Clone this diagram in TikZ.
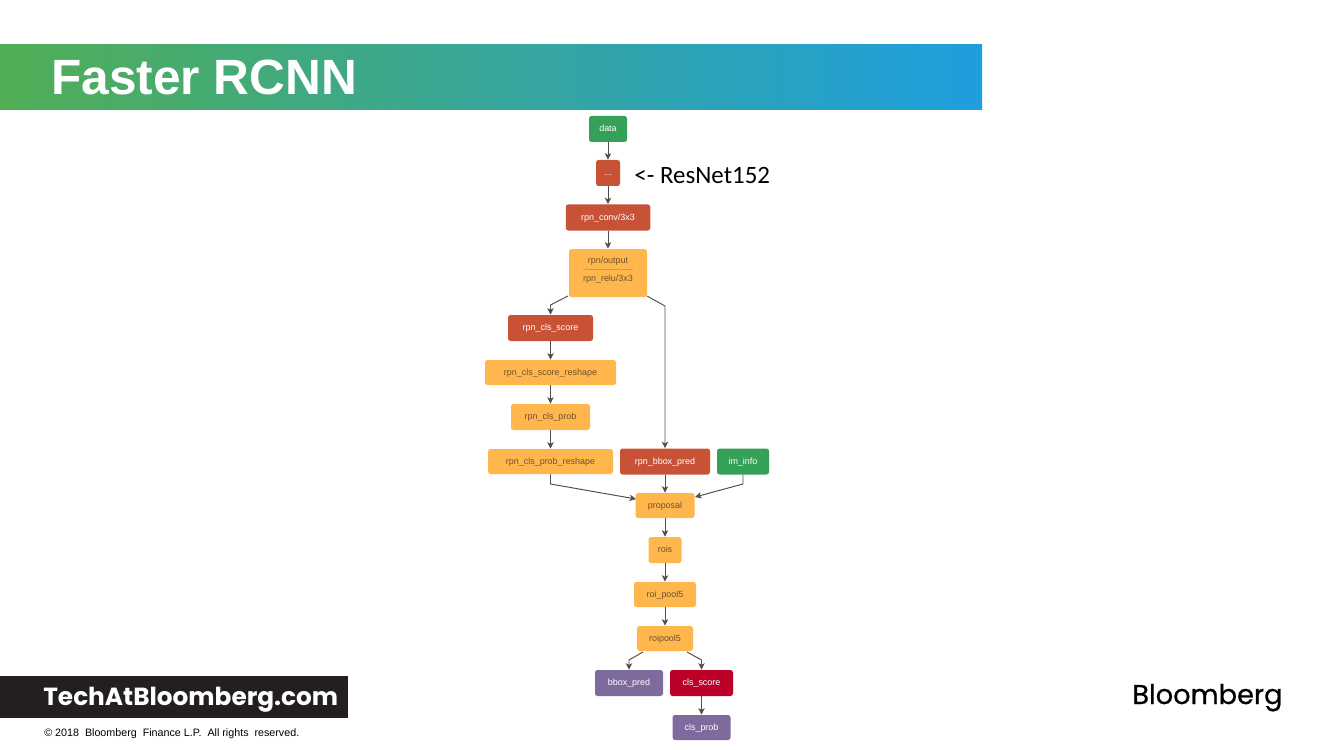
\documentclass[tikz,border=0pt]{standalone}
\usepackage{fontspec}
\setmainfont{Liberation Sans}
\newfontfamily\logofont{Poppins}
\newfontfamily\brandfont[FakeBold=0.6]{Poppins}
\newfontfamily\notefont{Carlito}
\usetikzlibrary{positioning,arrows.meta}

\definecolor{bandleft}{RGB}{80,174,85}
\definecolor{bandright}{RGB}{30,158,222}
\definecolor{opgreen}{RGB}{52,160,88}
\definecolor{opred}{RGB}{199,82,54}
\definecolor{oporange}{RGB}{255,183,77}
\definecolor{oppurple}{RGB}{127,106,157}
\definecolor{opcrimson}{RGB}{187,0,41}
\definecolor{optext}{RGB}{110,82,45}
\definecolor{edgegray}{RGB}{85,76,70}
\definecolor{barblack}{RGB}{35,31,32}

\tikzset{
    boxsize/.style 2 args={minimum width=#1*0.02cm, minimum height=#2*0.02cm},
    op/.style={rounded corners=0.05cm, inner sep=0pt, text height=0.14cm, text depth=0.03cm, font=\fontsize{5.1}{6}\selectfont},
    greenop/.style={op, fill=opgreen, text=white},
    redop/.style={op, fill=opred, text=white},
    orangeop/.style={op, fill=oporange, text=optext},
    purpleop/.style={op, fill=oppurple, text=white},
    crimsonop/.style={op, fill=opcrimson, text=white},
    flow/.style={draw=edgegray, line width=0.55pt, -{Stealth[length=0.13cm, width=0.13cm, inset=0.035cm]}}
}

\begin{document}
\begin{tikzpicture}[x=0.02cm, y=-0.02cm]
    \useasboundingbox (0, 0) rectangle (1333, 750);

    % Title band
    \path[left color=bandleft, right color=bandright] (0, 44.5) rectangle (982, 110);
    \node[anchor=base west, inner sep=0pt, text=white, font=\fontsize{28.2}{30}\selectfont\bfseries] (title) at (51, 95) {Faster RCNN};

    % Footer
    \fill[barblack] (0, 676) rectangle (348, 718);
    \node[anchor=base west, inner sep=0pt, text=white, font=\fontsize{14.1}{16}\selectfont\logofont\bfseries] (site) at (43, 705) {TechAtBloomberg.com};
    \node[anchor=base west, inner sep=0pt, font=\fontsize{6.1}{7}\selectfont] (copyright) at (44, 736) {\textcopyright\ 2018\ \ Bloomberg\ \ Finance L.P.\ \ All rights\ \ reserved.};
    \node[anchor=base west, inner sep=0pt, font=\fontsize{15.5}{18}\selectfont\brandfont] (brand) at (1132, 704) {Bloomberg};

    % Operators
    \node[greenop, boxsize={38}{26}] (data) at (608, 129) {data};
    \node[redop, boxsize={24}{26}] (dots) at (608, 173) {...};
    \node[anchor=base west, inner sep=0pt, font=\fontsize{14.2}{16}\selectfont\notefont] (resnet) at (634, 184) {<- ResNet152};
    \node[redop, boxsize={84.5}{26}] (rpnconv) at (608, 217.5) {rpn\_conv/3x3};
    \node[orangeop, boxsize={78}{48}] (rpnoutput) at (608, 273) {};
    \node[op, text=optext] (rpnoutputtext) at (608, 261) {rpn/output};
    \node[op, text=optext] (rpnrelu) at (608, 278.5) {rpn\_relu/3x3};
    \node[redop, boxsize={85}{26}] (clsscore) at (550.5, 328) {rpn\_cls\_score};
    \node[orangeop, boxsize={131}{25}] (clsreshape) at (550.5, 372.5) {rpn\_cls\_score\_reshape};
    \node[orangeop, boxsize={79}{26}] (clsprob) at (550.5, 417) {rpn\_cls\_prob};
    \node[orangeop, boxsize={125}{25}] (probreshape) at (550.5, 461.5) {rpn\_cls\_prob\_reshape};
    \node[redop, boxsize={90}{26}] (bboxpred) at (665, 461.5) {rpn\_bbox\_pred};
    \node[greenop, boxsize={52}{26}] (iminfo) at (743, 461.5) {im\_info};
    \node[orangeop, boxsize={59}{25}] (proposal) at (665, 505.5) {proposal};
    \node[orangeop, boxsize={33}{26}] (rois) at (665, 550) {rois};
    \node[orangeop, boxsize={62}{25}] (roipool) at (665, 594.5) {roi\_pool5};
    \node[orangeop, boxsize={56}{25}] (roipoolb) at (665, 638.5) {roipool5};
    \node[purpleop, boxsize={68}{26}] (bbox) at (629, 683) {bbox\_pred};
    \node[crimsonop, boxsize={63}{26}] (score) at (701.5, 683) {cls\_score};
    \node[purpleop, boxsize={58}{25}] (prob) at (701.5, 727.5) {cls\_prob};

    % Separator in rpn/output
    \draw[draw=optext!30!oporange, line width=0.3pt] ([xshift=-0.5cm]rpnoutput.center |- 0, 269) -- ([xshift=0.5cm]rpnoutput.center |- 0, 269);

    % Bends
    \coordinate (bendscore) at (550.5, 305);
    \coordinate (bendbbox) at (665, 306);
    \coordinate (bendprob) at (550.5, 484);
    \coordinate (bendinfo) at (743, 484);
    \coordinate (bendleft) at (629, 660);
    \coordinate (bendright) at (701.5, 660);
    \coordinate (rpnleft) at (568, 296);
    \coordinate (rpnright) at (647, 296);
    \coordinate (propleft) at (636, 499);
    \coordinate (propright) at (695, 497);
    \coordinate (poolleft) at (643, 652);
    \coordinate (poolright) at (687, 652);

    % Straight lines
    \draw[flow] (data.south) -- (dots.north);
    \draw[flow] (dots.south) -- (rpnconv.north);
    \draw[flow] (rpnconv.south) -- (rpnoutput.north);
    \draw[flow] (clsscore.south) -- (clsreshape.north);
    \draw[flow] (clsreshape.south) -- (clsprob.north);
    \draw[flow] (clsprob.south) -- (probreshape.north);
    \draw[flow] (bboxpred.south) -- (proposal.north);
    \draw[flow] (proposal.south) -- (rois.north);
    \draw[flow] (rois.south) -- (roipool.north);
    \draw[flow] (roipool.south) -- (roipoolb.north);
    \draw[flow] (score.south) -- (prob.north);

    % Lines with a bend
    \draw[flow] (rpnleft) -- (bendscore) -- (clsscore.north);
    \draw[flow] (rpnright) -- (bendbbox) -- (bboxpred.north);
    \draw[flow] (probreshape.south) -- (bendprob) -- (propleft);
    \draw[flow] (iminfo.south) -- (bendinfo) -- (propright);
    \draw[flow] (poolleft) -- (bendleft) -- (bbox.north);
    \draw[flow] (poolright) -- (bendright) -- (score.north);
\end{tikzpicture}
\end{document}
